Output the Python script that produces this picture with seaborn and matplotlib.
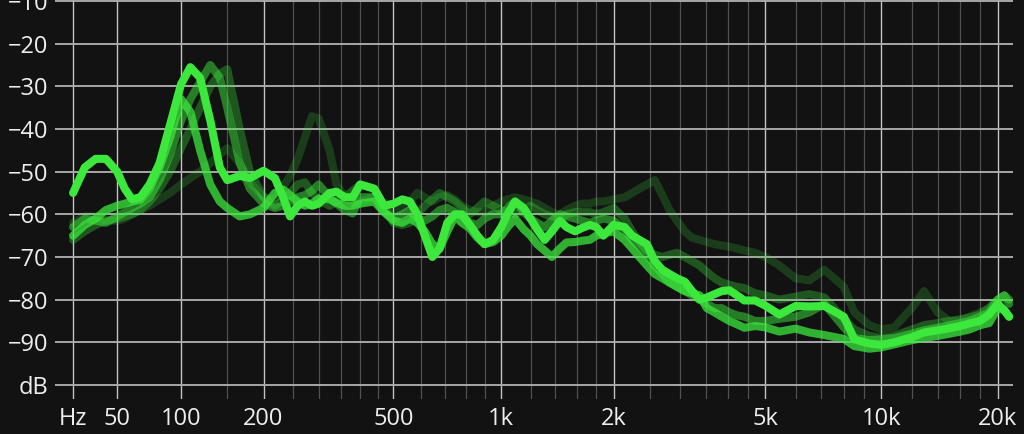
import numpy as np
import pandas as pd
import seaborn as sns
import matplotlib.pyplot as plt
from matplotlib.ticker import FixedLocator, FixedFormatter, NullFormatter

# %%
# frequency bins (Hz) shared by all traces
freqs = [25, 31, 37, 43, 50, 55, 60, 66, 73, 81,
         90, 100, 109, 119, 130, 141, 150, 166, 180, 200,
         218, 232, 244, 258, 272, 286, 300, 324, 340, 360,
         380, 400, 440, 470, 500, 530, 557, 585, 614, 645,
         676, 710, 745, 780, 820, 860, 900, 950, 1000, 1040,
         1090, 1150, 1200, 1250, 1310, 1370, 1440, 1500, 1580, 1650,
         1730, 1800, 1880, 2000, 2140, 2240, 2340, 2450, 2570, 2690,
         2810, 2940, 3080, 3220, 3370, 3520, 3690, 3850, 4030, 4220,
         4410, 4700, 5000, 5440, 6000, 6510, 7120, 8000, 8520, 9310,
         10000, 10800, 12000, 12900, 14000, 15000, 16000, 16900, 18000, 19000,
         20000, 20800, 21400]

# current spectrum (brightest)
db_now = [-55, -49, -47, -47, -50, -54, -56.5, -56, -53, -48,
          -39, -29.5, -25.5, -28, -38, -49, -52, -51, -51.5, -49.8,
          -51.5, -56, -60.5, -58, -57, -58, -57.5, -55, -54.7, -56,
          -56, -53, -54, -58, -57.5, -56.5, -57, -60, -65, -70,
          -68, -62, -60, -60, -62.5, -65, -67, -66, -63, -60,
          -57, -58.5, -61, -63.5, -66, -64, -61.5, -63, -64, -63.2,
          -62.5, -63, -65, -62.5, -63, -65, -66, -67, -71, -73,
          -74, -75, -75.8, -78, -80, -79.5, -78.7, -78, -77.8, -79,
          -80.2, -80.2, -81.4, -83.5, -81.5, -81.6, -81.5, -84, -89.3, -90.3,
          -90.6, -90, -88.8, -87.7, -87.2, -86.7, -86.2, -85.6, -85, -83.5,
          -81, -82.5, -84]

# older frames, fading out
db_prev1 = [-65, -62.5, -61, -59, -58, -57.5, -57, -56.6, -54, -49,
            -42, -33, -36, -45, -53, -57, -58.5, -60.5, -60, -58.5,
            -55, -54.2, -55.5, -57, -58, -57.5, -56.3, -56.5, -57.3, -58,
            -58, -57.5, -57, -59.5, -61.5, -62, -61, -62, -64, -67,
            -68, -64, -60.5, -62, -63.3, -65.5, -67, -66.5, -65, -63,
            -61, -63.5, -65, -67, -68.5, -70, -68, -66.6, -66.5, -66.2,
            -66, -65, -64.5, -64, -66, -68, -70, -72, -74, -75,
            -76, -77, -78, -78.5, -79, -82, -83, -84, -85, -85.8,
            -86.6, -86.2, -86.5, -87.5, -86.8, -87.7, -88.3, -89.2, -90.9, -91.5,
            -91.2, -90.5, -89.5, -89, -88.5, -88, -87.5, -87, -86, -85.5,
            -82, -82.5, -84]

db_prev2 = [-63, -61, -61.5, -62, -60.5, -59.5, -58.5, -57.5, -56, -52,
            -46, -38, -33, -29, -25, -28, -35, -48, -54, -57.5,
            -58.5, -58, -57, -56, -55.5, -54.5, -53, -56, -57.5, -59,
            -59.8, -56, -56, -59.5, -61, -60, -59, -61, -61.5, -60.5,
            -59, -58.5, -59.5, -60.5, -62, -62.5, -61, -60, -60, -58.5,
            -57, -59.5, -61, -62, -63, -61.5, -60, -60.5, -61, -61.5,
            -62, -61.5, -61, -61.5, -63.5, -66, -67.5, -69.5, -72, -74,
            -76, -77, -78, -79, -80, -81, -82, -82, -83, -83.7,
            -84, -85, -85, -84.5, -84, -83, -81, -86.5, -89, -89.5,
            -89.3, -89, -88, -87.2, -86.6, -86, -85.5, -85, -84, -83,
            -80, -79, -81]

db_prev3 = [-66, -64, -62.5, -61.5, -61, -60.5, -60, -59, -57, -54,
            -50, -44.5, -40, -35, -30, -27, -26, -40, -50, -56,
            -58, -56.5, -55, -53, -52.5, -55, -56.5, -58, -57, -56,
            -54.5, -53, -54, -58, -62, -62.5, -62, -60, -58, -56.5,
            -55, -56, -57, -58.5, -60, -58.5, -57, -58, -59, -59.5,
            -60, -59, -58, -59, -60, -60.5, -61, -60, -59.5, -59.5,
            -59.5, -60, -59.5, -58.5, -61, -64, -66.5, -68.5, -69.5, -70,
            -69.5, -69, -70, -71, -72, -73.5, -75, -76, -76.5, -77,
            -77.3, -78.5, -79, -80, -79.3, -78.7, -79.5, -84.5, -87, -88.5,
            -89, -88.5, -87, -86, -85.5, -85, -84.6, -84.2, -83.5, -82,
            -80, -79, -80]

db_prev4 = [-62, -60.5, -60.5, -61.5, -61.5, -61, -60, -59, -58, -56.5,
            -55, -53, -51.5, -50, -48, -46, -44.5, -48, -52.5, -56,
            -56.5, -53.5, -51, -47, -42, -37, -37.5, -45, -53, -56,
            -57.5, -57, -56, -59, -59.5, -58.5, -57, -55, -56, -57,
            -56, -55.5, -56.5, -58, -59, -59.5, -59.5, -58, -57, -56.5,
            -56, -56.5, -57, -57.5, -58.5, -59.5, -60, -59, -58, -57.5,
            -57.5, -57, -57, -56.5, -56, -55, -54, -53, -52, -55.5,
            -59, -61.5, -64, -65.5, -66, -66.5, -67, -67.3, -67.6, -68,
            -68.5, -69, -70, -72, -75, -75.5, -73, -77, -83, -86,
            -87, -86.5, -82, -78, -83, -85, -85, -84, -83, -82,
            -80, -79, -80]

traces = ["prev4", "prev3", "prev2", "prev1", "now"]
trace_values = [db_prev4, db_prev3, db_prev2, db_prev1, db_now]
trace_alpha = [0.2, 0.32, 0.5, 0.75, 1.0]

major_ticks = [25, 50, 100, 200, 500, 1000, 2000, 5000, 10000, 20000]
major_labels = ["Hz", "50", "100", "200", "500", "1k", "2k", "5k", "10k", "20k"]
minor_ticks = [150, 250, 300, 350, 400, 450, 600, 700, 800, 900,
               1200, 1400, 1600, 1800, 2500, 3000, 3500, 4000, 4500,
               6000, 7000, 8000, 9000, 12000, 14000, 16000, 18000]
y_ticks = [-10, -20, -30, -40, -50, -60, -70, -80, -90, -100]
y_labels = ["\u221210", "\u221220", "\u221230", "\u221240", "\u221250",
            "\u221260", "\u221270", "\u221280", "\u221290", "dB"]

# %%
bg = "#121212"
green = "#3ce83c"

sns.set_style("dark", {"axes.facecolor": bg, "figure.facecolor": bg})
plt.rcParams['font.family'] = ['Open Sans', 'DejaVu Sans']

fig = plt.figure(figsize=(10.24, 4.34), dpi=100)
ax = fig.add_axes([55 / 1024, 35 / 434, 958 / 1024, 399 / 434])
ax.set_facecolor(bg)

# analyzer frequency axis: log of (f + offset)
offset = 58.7
ax.set_xscale('function', functions=(lambda f: np.log10(np.asarray(f) + offset),
                                     lambda v: 10 ** np.asarray(v) - offset))

for name, vals, a in zip(traces, trace_values, trace_alpha):
    df = pd.DataFrame({"freq": freqs, "db": vals})
    sns.lineplot(data=df, x="freq", y="db", ax=ax, color=green, alpha=a,
                 lw=5.8, solid_joinstyle="round", solid_capstyle="round",
                 sort=False, zorder=3)

ax.set_xlim(16.5, 21900)
ax.set_ylim(-103.3, -9.76)

ax.xaxis.set_major_locator(FixedLocator(major_ticks))
ax.xaxis.set_major_formatter(FixedFormatter(major_labels))
ax.xaxis.set_minor_locator(FixedLocator(minor_ticks))
ax.xaxis.set_minor_formatter(NullFormatter())
ax.set_yticks(y_ticks)
ax.set_yticklabels(y_labels)

ax.grid(which="major", axis="x", color="#c4c4c4", lw=1.0)
ax.grid(which="minor", axis="x", color="#505050", lw=0.9)
ax.grid(which="major", axis="y", color="#a8a8a8", lw=1.4)
ax.set_axisbelow(True)

ax.tick_params(axis="both", which="both", length=0, colors="#eeeeee", labelsize=17)
ax.tick_params(axis="x", pad=6)
ax.tick_params(axis="y", pad=5)
for s in ax.spines.values():
    s.set_visible(False)
ax.set_xlabel("")
ax.set_ylabel("")

fig.savefig("out.png", dpi=100, facecolor=bg)
